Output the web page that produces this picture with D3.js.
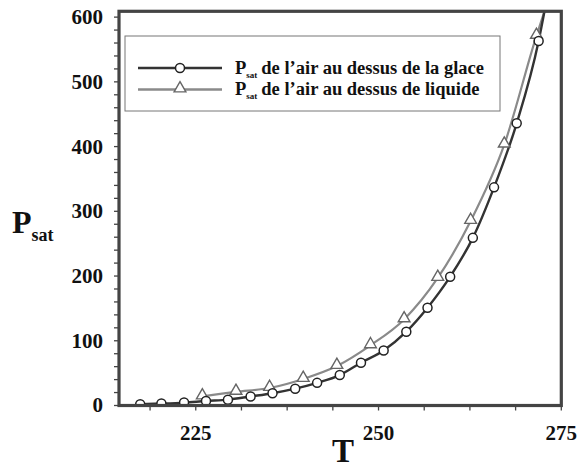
<!DOCTYPE html>
<html>
<head>
<meta charset="utf-8">
<script src="https://cdn.jsdelivr.net/npm/d3@7"></script>
<style>
  body { margin: 0; background: #fff; }
</style>
</head>
<body>
<svg id="chart" width="582" height="468"></svg>
<script>
// Saturation pressure over ice (circles)
const iceT = [217.4, 220.3, 223.4, 226.4, 229.4, 232.5, 235.5, 238.6, 241.6, 244.7, 247.6, 250.7, 253.8, 256.7, 259.8, 262.9, 265.8, 268.9, 271.9];
const iceP = [2, 3, 4.5, 7, 9, 14, 19, 26, 35, 47, 66, 85, 114, 151, 199, 259, 337, 436, 563];
// Saturation pressure over liquid (triangles)
const liqT = [225.9, 230.5, 235.1, 239.7, 244.3, 248.9, 253.5, 258.1, 262.6, 267.2, 271.6];
const liqP = [14, 21, 27, 41, 61, 93, 133, 197, 285, 403, 571];
// both curves leave the frame at the top edge
const exitT = 272.7;
const exitP = 609;

const xTicks = [225, 250, 275];
const yTicks = [0, 100, 200, 300, 400, 500, 600];
const legendLabels = ["de l\u2019air au dessus de la glace", "de l\u2019air au dessus de liquide"];

const margin = { top: 11.3, right: 20.7, bottom: 62.5, left: 119 };
const svg = d3.select("#chart")
  .attr("font-family", "'Liberation Serif', 'Times New Roman', Times, serif")
  .attr("font-weight", "bold");
const width = +svg.attr("width");
const height = +svg.attr("height");
const innerWidth = width - margin.left - margin.right;
const innerHeight = height - margin.top - margin.bottom;

const g = svg.append("g").attr("transform", `translate(${margin.left},${margin.top})`);

const x = d3.scaleLinear().domain([214.5, 275]).range([0, innerWidth]);
const y = d3.scaleLinear().domain([0, 609]).range([innerHeight, 0]);

const iceColor = "#333";
const liqColor = "#8a8a8a";
const frameColor = "#444";
const textColor = "#111";

// ticks: minor every 20 on y, every 6.25 on x
const yMinor = d3.range(0, 601, 20);
const xMinor = d3.range(218.75, 275.01, 6.25);

g.append("g").selectAll("line").data(yMinor).enter().append("line")
  .attr("x1", -5).attr("x2", 0)
  .attr("y1", (d) => y(d)).attr("y2", (d) => y(d))
  .attr("stroke", frameColor).attr("stroke-width", 1.3);

g.append("g").selectAll("line").data(xMinor).enter().append("line")
  .attr("x1", (d) => x(d)).attr("x2", (d) => x(d))
  .attr("y1", innerHeight).attr("y2", innerHeight + 5)
  .attr("stroke", frameColor).attr("stroke-width", 1.3);

g.append("g").selectAll("text").data(yTicks).enter().append("text")
  .attr("x", -16).attr("y", (d) => y(d) + 7)
  .attr("text-anchor", "end")
  .attr("fill", textColor)
  .style("font-size", "21px")
  .text((d) => d);

g.append("g").selectAll("text").data(xTicks).enter().append("text")
  .attr("x", (d) => x(d)).attr("y", innerHeight + 35)
  .attr("text-anchor", "middle")
  .attr("fill", textColor)
  .style("font-size", "21px")
  .text((d) => d);

// curves
g.append("clipPath").attr("id", "plot-clip")
  .append("rect").attr("width", innerWidth).attr("height", innerHeight);

const line = d3.line()
  .x((d) => x(d[0]))
  .y((d) => y(d[1]))
  .curve(d3.curveMonotoneX);

const icePts = d3.zip(iceT, iceP);
const liqPts = d3.zip(liqT, liqP);

const plot = g.append("g").attr("clip-path", "url(#plot-clip)");

plot.append("path")
  .datum(liqPts.concat([[exitT, exitP]]))
  .attr("d", line)
  .attr("fill", "none")
  .attr("stroke", liqColor)
  .attr("stroke-width", 2.2);

plot.append("path")
  .datum(icePts.concat([[exitT, exitP]]))
  .attr("d", line)
  .attr("fill", "none")
  .attr("stroke", iceColor)
  .attr("stroke-width", 2.4);

const tri = d3.symbol().type(d3.symbolTriangle).size(60);

plot.selectAll(".liq").data(liqPts).enter().append("path")
  .attr("class", "liq")
  .attr("d", tri)
  .attr("transform", (d) => `translate(${x(d[0])},${y(d[1]) - 1})`)
  .attr("fill", "#fff")
  .attr("stroke", "#666")
  .attr("stroke-width", 1.4);

plot.selectAll(".ice").data(icePts).enter().append("circle")
  .attr("class", "ice")
  .attr("cx", (d) => x(d[0]))
  .attr("cy", (d) => y(d[1]))
  .attr("r", 4.5)
  .attr("fill", "#fff")
  .attr("stroke", "#222")
  .attr("stroke-width", 1.5);

// frame
g.append("rect")
  .attr("width", innerWidth).attr("height", innerHeight)
  .attr("fill", "none")
  .attr("stroke", frameColor)
  .attr("stroke-width", 3.2);

// axis titles
g.append("text")
  .attr("x", 343 - margin.left).attr("y", innerHeight + 57)
  .attr("text-anchor", "middle")
  .attr("fill", textColor)
  .style("font-size", "33px")
  .text("T");

const yTitle = svg.append("text").attr("x", 12).attr("y", 233)
  .attr("fill", textColor).style("font-size", "32px");
yTitle.append("tspan").text("P");
yTitle.append("tspan").attr("dy", 8).style("font-size", "18px").text("sat");

// legend
const legend = svg.append("g").attr("transform", "translate(125,36)");
legend.append("rect")
  .attr("width", 375).attr("height", 75)
  .attr("fill", "#fff")
  .attr("stroke", "#777")
  .attr("stroke-width", 1);

const legendRows = [
  { color: iceColor, marker: "circle", label: legendLabels[0] },
  { color: liqColor, marker: "triangle", label: legendLabels[1] },
];

legendRows.forEach((r, i) => {
  const ly = 32 + i * 21.5;
  const row = legend.append("g").attr("transform", `translate(0,${ly})`);
  row.append("line")
    .attr("x1", 13).attr("x2", 97)
    .attr("stroke", r.color).attr("stroke-width", 2.4);
  if (r.marker === "circle") {
    row.append("circle").attr("cx", 55).attr("r", 4.5)
      .attr("fill", "#fff").attr("stroke", "#222").attr("stroke-width", 1.5);
  } else {
    row.append("path").attr("d", tri).attr("transform", "translate(55,-1)")
      .attr("fill", "#fff").attr("stroke", "#666").attr("stroke-width", 1.4);
  }
  const t = row.append("text").attr("x", 110).attr("y", 5.5)
    .attr("fill", textColor).style("font-size", "18.5px");
  t.append("tspan").text("P");
  t.append("tspan").attr("dy", 4).style("font-size", "9px").text("sat");
  t.append("tspan").attr("dy", -4).attr("dx", 4).text(r.label);
});
</script>
</body>
</html>
